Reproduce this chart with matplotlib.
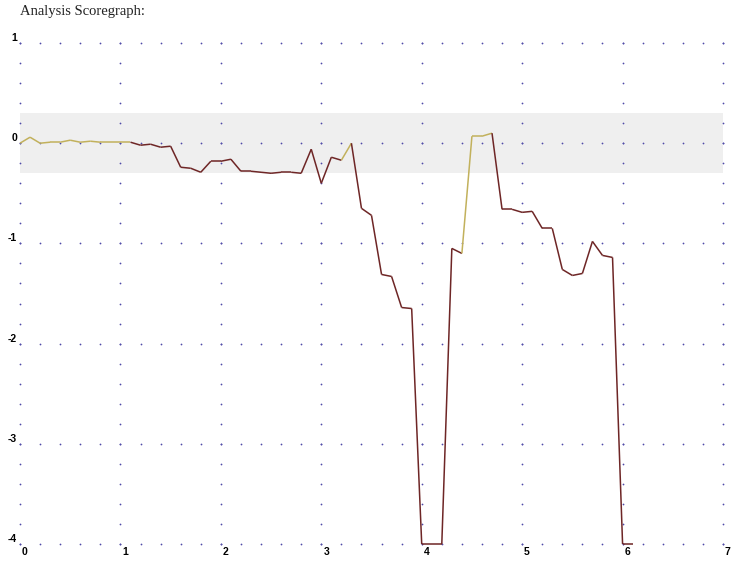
import numpy as np
import matplotlib
matplotlib.use('Agg')
import matplotlib.pyplot as plt
from matplotlib.transforms import ScaledTranslation

# score per step (x = step / 10), -4 means off the bottom of the graph
scores = [0.0, 0.06, 0.0, 0.01, 0.01, 0.03, 0.01, 0.02, 0.01, 0.01,
          0.01, 0.01, -0.02, -0.01, -0.04, -0.03, -0.24, -0.25, -0.29, -0.18,
          -0.18, -0.16, -0.28, -0.28, -0.29, -0.30, -0.29, -0.29, -0.30, -0.06,
          -0.40, -0.14, -0.17, 0.0, -0.65, -0.72, -1.31, -1.33, -1.64, -1.65,
          -4.0, -4.0, -4.0, -1.05, -1.10, 0.07, 0.07, 0.10, -0.66, -0.66,
          -0.69, -0.68, -0.85, -0.85, -1.26, -1.32, -1.30, -0.98, -1.12, -1.14,
          -4.0, -4.0]
steps = np.arange(len(scores)) / 10.0

x_ticks = [0, 1, 2, 3, 4, 5, 6, 7]
y_ticks = [-4, -3, -2, -1, 0, 1]
band = (-0.3, 0.3)

good_color = '#c2b15c'
bad_color = '#6e2626'
dot_color = '#4f4aa8'

fig = plt.figure(figsize=(7.44, 5.65), dpi=100)
ax = fig.add_axes([20 / 744, 21 / 565, 703 / 744, 501 / 565])

ax.axhspan(band[0], band[1], color='#efefef', lw=0, zorder=0)

# dotted grid: rows along whole numbers of y, columns along whole numbers of x
for yv in y_ticks:
    xs = np.arange(0, 7.01, 0.2)
    ax.scatter(xs, np.full(len(xs), yv), s=1.6, color=dot_color, lw=0, zorder=1, clip_on=False)
for xv in x_ticks:
    ys = np.arange(-4, 1.01, 0.2)
    ax.scatter(np.full(len(ys), xv), ys, s=1.6, color=dot_color, lw=0, zorder=1, clip_on=False)

for i in range(1, len(scores)):
    c = good_color if scores[i] >= 0 else bad_color
    ax.plot(steps[i - 1:i + 1], scores[i - 1:i + 1], color=c, lw=1.1,
            solid_capstyle='butt', zorder=3, clip_on=False)

ax.set_xlim(0, 7)
ax.set_ylim(-4, 1)
for s in ax.spines.values():
    s.set_visible(False)

ax.set_xticks(x_ticks)
ax.set_xticklabels([str(v) for v in x_ticks])
ax.set_yticks(y_ticks)
ax.set_yticklabels([str(v) for v in y_ticks])
ax.tick_params(length=0, labelsize=7.5, colors='black')
ax.tick_params(axis='x', pad=2)
ax.tick_params(axis='y', pad=2)
shift = ScaledTranslation(2 / 100, 0, fig.dpi_scale_trans)
for lab in ax.get_xticklabels() + ax.get_yticklabels():
    lab.set_family('Liberation Sans')
    lab.set_weight('bold')
for lab in ax.get_xticklabels():
    lab.set_ha('left')
    lab.set_transform(lab.get_transform() + shift)
for lab in ax.get_yticklabels():
    lab.set_va('bottom')

fig.text(20 / 744, 1 - 12 / 565, 'Analysis Scoregraph:', family='Liberation Serif',
         fontsize=10.5, va='center', ha='left', color='#222222')

fig.savefig('out.png', dpi=100)
